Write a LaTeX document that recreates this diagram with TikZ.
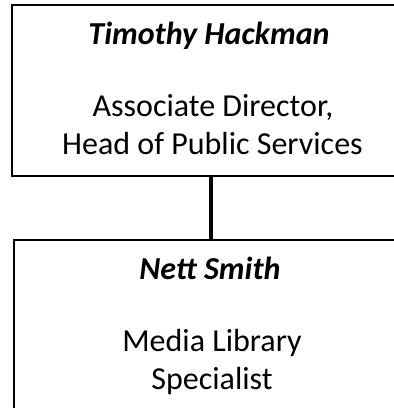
\documentclass[tikz,border=0pt]{standalone}
\usepackage{fontspec}
\setmainfont{Carlito}
\tikzset{
  box/.style={draw=black, line width=2pt, rectangle, inner sep=0pt},
  link/.style={draw=black, line width=4pt},
  txt/.style={anchor=base, inner sep=0pt, font=\fontsize{32}{38}\selectfont},
  nametxt/.style={txt, font=\fontsize{32}{38}\selectfont\bfseries\itshape},
}
\begin{document}
\begin{tikzpicture}[x=1pt,y=-1pt]
\useasboundingbox (0,0) rectangle (394,408);
\clip (0,0) rectangle (394,408);
\node[box, minimum width=398pt, minimum height=171pt] (top) at (211,90.5) {};
\node[box, minimum width=396pt, minimum height=180pt] (bot) at (212,330) {};
\draw[link] (top.south -| 211,0) -- (211,240) coordinate (j);
\node[nametxt] (n1) at (209,44) {Timothy Hackman};
\node[txt] (t1a) at (213,116) {Associate Director,};
\node[txt] (t1b) at (212.5,154) {Head of Public Services};
\node[nametxt] (n2) at (210,279) {Nett Smith};
\node[txt] (t2a) at (212,351) {Media Library};
\node[txt] (t2b) at (212,389) {Specialist};
\end{tikzpicture}
\end{document}
